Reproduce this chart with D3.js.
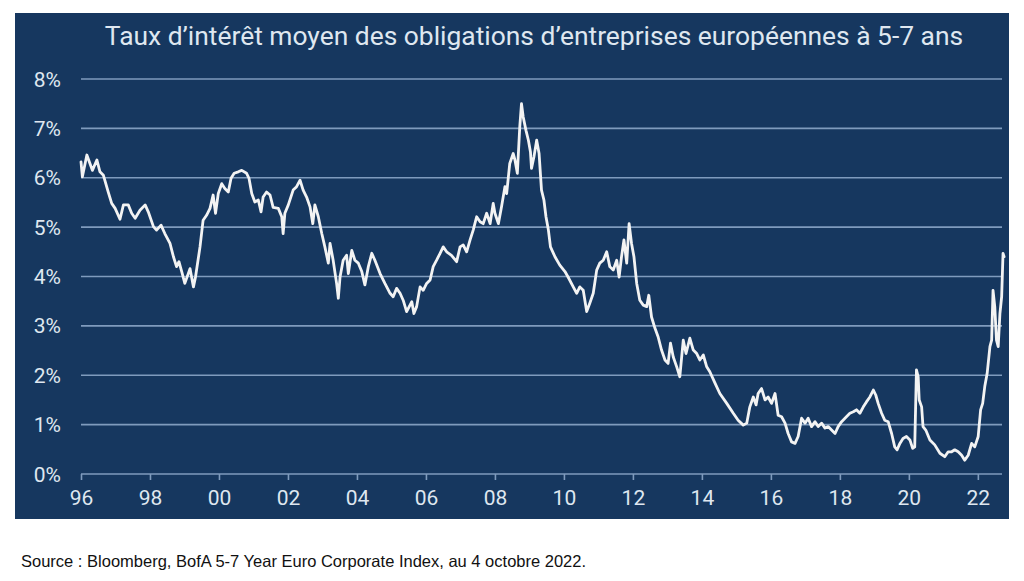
<!DOCTYPE html>
<html><head><meta charset="utf-8">
<script src="https://cdn.jsdelivr.net/npm/d3@7"></script>
<style>body{margin:0;background:#fff;}svg{display:block;}</style>
</head><body><svg id="c" width="1024" height="581"></svg>
<script>
const titleText = "Taux d’intérêt moyen des obligations d’entreprises européennes à 5-7 ans";
const sourceText = "Source : Bloomberg, BofA 5-7 Year Euro Corporate Index, au 4 octobre 2022.";
const yTickValues = [0, 1, 2, 3, 4, 5, 6, 7, 8];
const xTickYears = [1996, 1998, 2000, 2002, 2004, 2006, 2008, 2010, 2012, 2014, 2016, 2018, 2020, 2022];
const xTickLabels = ["96", "98", "00", "02", "04", "06", "08", "10", "12", "14", "16", "18", "20", "22"];

// decimal years
const dates = [
1996.00,1996.04,1996.17,1996.33,1996.46,1996.55,1996.65,1996.79,1996.89,1996.99,
1997.13,1997.23,1997.37,1997.47,1997.57,1997.71,1997.86,1997.95,1998.10,1998.19,
1998.32,1998.43,1998.58,1998.68,1998.77,1998.84,1998.92,1999.01,1999.16,1999.26,
1999.32,1999.45,1999.54,1999.64,1999.74,1999.83,1999.90,1999.98,2000.08,2000.17,
2000.27,2000.35,2000.44,2000.56,2000.66,2000.80,2000.87,2000.95,2001.04,2001.14,
2001.22,2001.28,2001.38,2001.48,2001.57,2001.72,2001.82,2001.86,2001.91,2002.01,
2002.15,2002.25,2002.35,2002.44,2002.54,2002.64,2002.72,2002.78,2002.88,2002.98,
2003.07,2003.17,2003.22,2003.31,2003.41,2003.46,2003.51,2003.60,2003.70,2003.75,
2003.85,2003.94,2004.04,2004.14,2004.23,2004.33,2004.43,2004.52,2004.67,2004.81,
2004.96,2005.05,2005.15,2005.25,2005.34,2005.44,2005.59,2005.65,2005.73,2005.83,
2005.92,2006.02,2006.12,2006.21,2006.31,2006.41,2006.50,2006.60,2006.74,2006.89,
2006.99,2007.08,2007.18,2007.28,2007.37,2007.47,2007.57,2007.66,2007.76,2007.86,
2007.95,2008.00,2008.10,2008.19,2008.29,2008.34,2008.43,2008.53,2008.58,2008.65,
2008.72,2008.77,2008.82,2008.90,2008.97,2009.03,2009.06,2009.13,2009.21,2009.28,
2009.35,2009.42,2009.48,2009.55,2009.61,2009.74,2009.88,2010.03,2010.12,2010.27,
2010.37,2010.46,2010.56,2010.66,2010.75,2010.85,2010.95,2011.04,2011.14,2011.24,
2011.33,2011.43,2011.53,2011.60,2011.67,2011.74,2011.82,2011.89,2011.96,2012.03,
2012.11,2012.20,2012.30,2012.40,2012.46,2012.54,2012.64,2012.73,2012.83,2012.93,
2013.02,2013.09,2013.17,2013.27,2013.36,2013.46,2013.54,2013.65,2013.75,2013.85,
2013.94,2014.04,2014.14,2014.23,2014.38,2014.52,2014.72,2014.91,2015.05,2015.20,
2015.30,2015.39,2015.49,2015.57,2015.63,2015.73,2015.83,2015.92,2016.02,2016.12,
2016.21,2016.31,2016.41,2016.50,2016.60,2016.70,2016.79,2016.89,2016.99,2017.08,
2017.18,2017.28,2017.37,2017.47,2017.57,2017.66,2017.76,2017.86,2017.95,2018.05,
2018.19,2018.29,2018.39,2018.48,2018.58,2018.68,2018.77,2018.87,2018.97,2019.04,
2019.11,2019.21,2019.30,2019.40,2019.50,2019.59,2019.66,2019.74,2019.83,2019.93,
2020.03,2020.11,2020.17,2020.22,2020.27,2020.30,2020.37,2020.41,2020.49,2020.61,
2020.75,2020.90,2021.04,2021.14,2021.24,2021.33,2021.43,2021.53,2021.62,2021.72,
2021.82,2021.91,2022.01,2022.08,2022.14,2022.20,2022.27,2022.35,2022.40,2022.44,
2022.49,2022.54,2022.59,2022.64,2022.69,2022.73,2022.76
];
const rates = [
6.32,6.02,6.46,6.15,6.36,6.12,6.05,5.71,5.48,5.38,
5.16,5.45,5.45,5.28,5.18,5.34,5.45,5.31,5.01,4.94,
5.04,4.87,4.67,4.40,4.20,4.30,4.10,3.86,4.16,3.79,
3.99,4.60,5.14,5.24,5.38,5.65,5.28,5.68,5.88,5.78,
5.71,5.99,6.09,6.12,6.15,6.09,5.99,5.68,5.51,5.55,
5.31,5.61,5.71,5.65,5.40,5.38,5.21,4.87,5.28,5.45,
5.75,5.82,5.95,5.75,5.61,5.41,5.07,5.45,5.21,4.87,
4.60,4.27,4.67,4.33,3.86,3.56,3.99,4.33,4.43,4.06,
4.53,4.33,4.27,4.10,3.83,4.20,4.47,4.33,4.06,3.86,
3.66,3.59,3.76,3.66,3.52,3.29,3.49,3.25,3.39,3.79,
3.72,3.86,3.93,4.20,4.33,4.47,4.60,4.50,4.43,4.30,
4.60,4.64,4.50,4.74,4.94,5.21,5.11,5.07,5.28,5.07,
5.48,5.28,5.07,5.41,5.82,5.68,6.29,6.49,6.36,6.09,
7.03,7.50,7.23,6.96,6.76,6.52,6.19,6.42,6.76,6.49,
5.75,5.55,5.21,4.94,4.60,4.40,4.23,4.10,3.99,3.79,
3.66,3.79,3.72,3.29,3.46,3.66,4.13,4.27,4.33,4.50,
4.20,4.13,4.33,3.99,4.40,4.74,4.27,5.07,4.67,4.40,
3.86,3.52,3.42,3.39,3.62,3.18,2.95,2.78,2.51,2.31,
2.24,2.65,2.37,2.17,1.97,2.71,2.44,2.75,2.51,2.44,
2.31,2.41,2.17,2.07,1.84,1.63,1.43,1.23,1.09,0.99,
1.03,1.36,1.56,1.40,1.63,1.73,1.50,1.56,1.43,1.63,
1.19,1.16,1.03,0.82,0.65,0.62,0.76,1.13,1.03,1.13,
0.96,1.06,0.96,1.03,0.93,0.96,0.89,0.82,0.96,1.06,
1.16,1.23,1.26,1.30,1.23,1.36,1.46,1.56,1.70,1.60,
1.43,1.23,1.09,1.06,0.82,0.55,0.49,0.62,0.72,0.76,
0.69,0.52,0.55,2.11,1.97,1.50,1.36,0.96,0.89,0.69,
0.59,0.42,0.35,0.45,0.45,0.49,0.45,0.38,0.28,0.38,
0.62,0.55,0.76,1.30,1.43,1.77,2.04,2.58,2.71,3.72,
3.39,2.71,2.58,3.25,3.59,4.47,4.40
];

const svg = d3.select("#c");
const bg = "#16375f";
const gridColor = "#7f9bbd";
const textColor = "#dfe7f0";

svg.append("rect").attr("x", 15).attr("y", 13).attr("width", 994).attr("height", 506).attr("fill", bg);

const x = d3.scaleLinear().domain([1996, 2022.70]).range([81, 1002]);
const y = d3.scaleLinear().domain([0, 8]).range([474, 79]);

// gridlines
svg.append("g").selectAll("line").data(yTickValues).join("line")
  .attr("x1", x(1996)).attr("x2", x(2022.70))
  .attr("y1", d => y(d)).attr("y2", d => y(d))
  .attr("stroke", gridColor).attr("stroke-width", 1.6);

// y labels
svg.append("g").selectAll("text").data(yTickValues).join("text")
  .attr("x", 61).attr("y", d => y(d)).attr("dy", "0.36em")
  .attr("text-anchor", "end")
  .attr("fill", textColor)
  .attr("font-family", "Roboto, sans-serif").attr("font-size", 21)
  .text(d => d + "%");

// x axis
const xAxis = d3.axisBottom(x).tickValues(xTickYears)
  .tickFormat((d, i) => xTickLabels[i]).tickSize(6).tickPadding(10).tickSizeOuter(0);
const gx = svg.append("g").attr("transform", `translate(0,${y(0)})`).call(xAxis);
gx.select(".domain").remove();
gx.selectAll(".tick line").attr("stroke", gridColor).attr("stroke-width", 1.6);
gx.selectAll(".tick text").attr("fill", textColor)
  .attr("font-family", "Roboto, sans-serif").attr("font-size", 21);

// line
const line = d3.line().x((d, i) => x(dates[i])).y(d => y(d));
svg.append("path").datum(rates)
  .attr("d", line)
  .attr("fill", "none").attr("stroke", "#f3f3f3").attr("stroke-width", 2.8)
  .attr("stroke-linejoin", "round").attr("stroke-linecap", "round");

// title
svg.append("text").attr("x", 534).attr("y", 45).attr("text-anchor", "middle")
  .attr("fill", textColor).attr("font-family", "Roboto, sans-serif").attr("font-size", 26.4)
  .text(titleText);

// source
svg.append("text").attr("x", 21).attr("y", 567)
  .attr("fill", "#111").attr("font-family", "'Liberation Sans', Arial, sans-serif").attr("font-size", 16.5)
  .text(sourceText);
</script></body></html>
